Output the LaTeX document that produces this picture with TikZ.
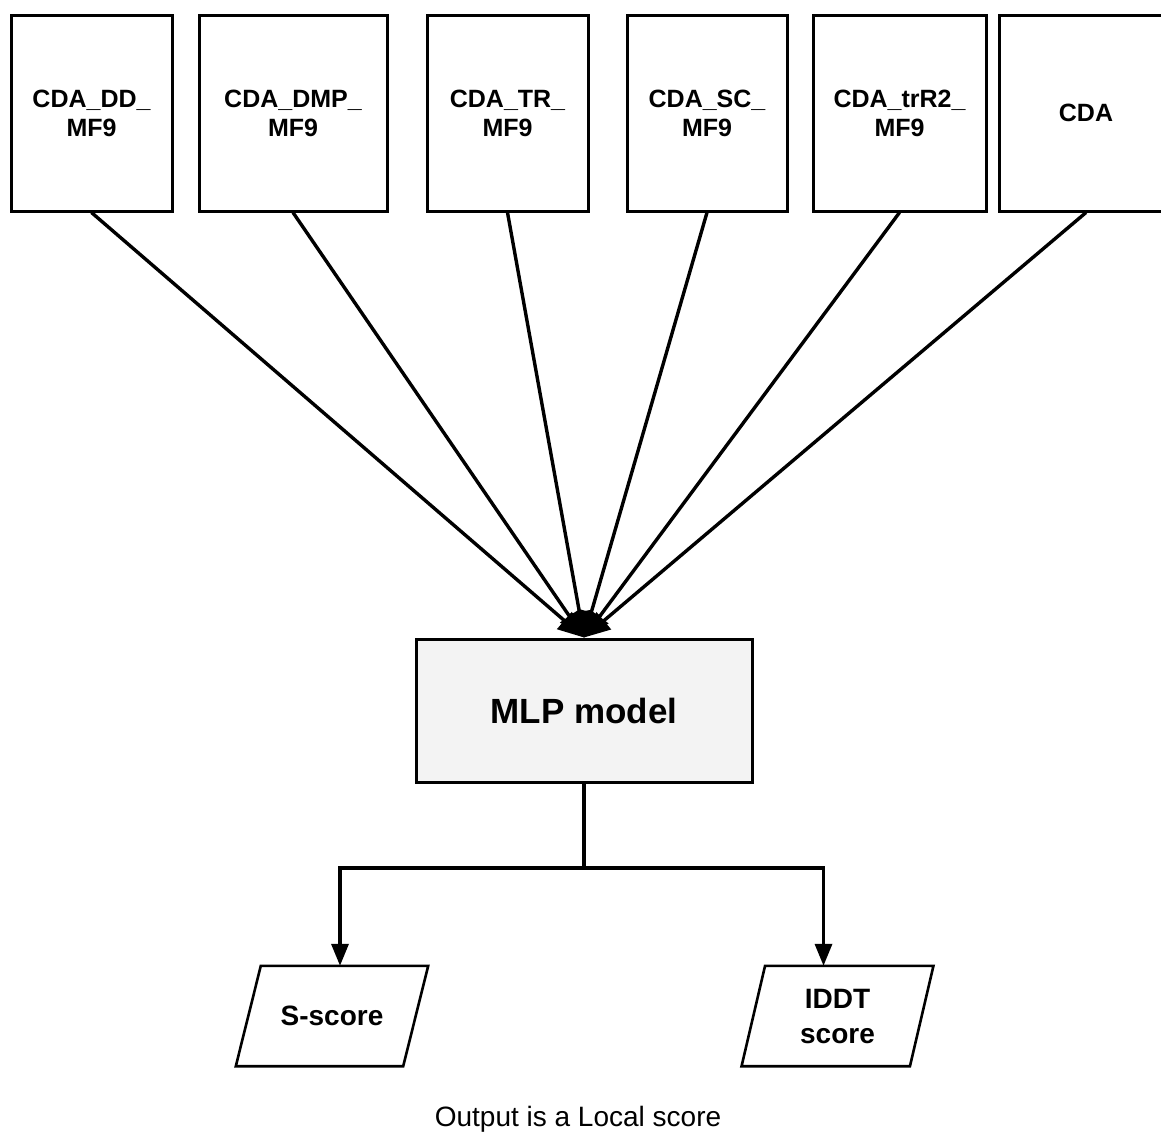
\documentclass[tikz,border=0pt]{standalone}
\usepackage{fontspec}
\setmainfont{Liberation Sans}
\usetikzlibrary{arrows.meta,calc}
\definecolor{mlpgray}{HTML}{F3F3F3}
\begin{document}
\begin{tikzpicture}[x=1pt,y=-1pt,
  inbox/.style={draw, line width=3pt, minimum height=196pt, inner sep=0pt,
    align=center, font=\bfseries\fontsize{25}{29}\selectfont},
  model/.style={draw, line width=3pt, fill=mlpgray, minimum width=336pt,
    minimum height=143pt, font=\bfseries\fontsize{35}{42}\selectfont},
  outbox/.style={minimum height=100pt, inner sep=0pt, align=center,
    font=\bfseries\fontsize{28}{35}\selectfont},
  slanted/.style={line width=2.6pt, line join=miter},
  feed/.style={line width=3.4pt, -{Triangle[length=26pt,width=22pt]}},
  wire/.style={line width=3.4pt},
  drop/.style={line width=3.4pt, -{Triangle[length=22pt,width=17pt]}}
]
\useasboundingbox (0,0) rectangle (1161,1133);
\clip (0,0) rectangle (1161,1133);

% feature inputs
\node[inbox, minimum width=161pt] (b1) at (91.5,113) {CDA\_DD\_\\MF9};
\node[inbox, minimum width=188pt] (b2) at (293,113) {CDA\_DMP\_\\MF9};
\node[inbox, minimum width=161pt] (b3) at (507.5,113) {CDA\_TR\_\\MF9};
\node[inbox, minimum width=160pt] (b4) at (707,113) {CDA\_SC\_\\MF9};
\node[inbox, minimum width=173pt] (b5) at (899.5,113) {CDA\_trR2\_\\MF9};
\node[inbox, minimum width=174pt] (b6) at (1086,113) {CDA};

% model
\node[model] (mlp) at (584,710.5) {MLP model};

% outputs (parallelograms drawn around the text nodes)
\node[outbox, minimum width=167pt] (p1) at (332,1016) {S-score};
\node[outbox, minimum width=168pt] (p2) at (837.5,1016) {IDDT\\score};
\foreach \p/\s in {p1/12.5,p2/11.75}
  \draw[slanted] ([xshift=\s pt]\p.north west) -- ([xshift=\s pt]\p.north east)
    -- ([xshift=-\s pt]\p.south east) -- ([xshift=-\s pt]\p.south west) -- cycle;

\node[font=\fontsize{28}{34}\selectfont] (cap) at (578,1119) {Output is a Local score};

% inputs into the model
\foreach \b in {b1,b2,b3,b4,b5,b6}
  \draw[feed] (\b.south) -- (mlp.north);

% split towards the two scores
\coordinate (split) at (584,868);
\coordinate (p1top) at ([xshift=8pt]p1.north);
\coordinate (p2top) at ([xshift=-14pt]p2.north);
\draw[wire] (mlp.south) -- (split);
\draw[drop] (split) -| (p1top);
\draw[drop] (split) -| (p2top);
\end{tikzpicture}
\end{document}
